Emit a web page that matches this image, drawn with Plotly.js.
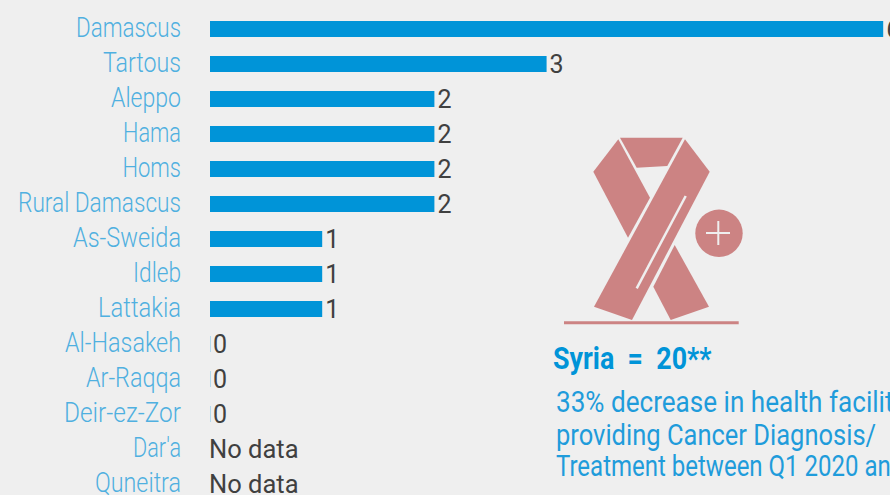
<!DOCTYPE html>
<html><head><meta charset="utf-8">
<script src="https://cdn.plot.ly/plotly-3.0.1.min.js"></script>
<style>html,body{margin:0;padding:0;background:#efefef;overflow:hidden}</style>
</head><body><div id="chart" style="width:890px;height:495px"></div>
<script>
const governorates = ["Damascus","Tartous","Aleppo","Hama","Homs","Rural Damascus","As-Sweida","Idleb","Lattakia","Al-Hasakeh","Ar-Raqqa","Deir-ez-Zor","Dar'a","Quneitra"];
const facilities = [6,3,2,2,2,2,1,1,1,0,0,0,null,null];
const noDataRegions = ["Dar'a","Quneitra"];
const noDataText = ["No data","No data"];
const summaryTitle = "Syria  =  20**";
const summaryLines = ["33% decrease in health facilities","providing Cancer Diagnosis/","Treatment between Q1 2020 and"];

const labelWidths = [105,78,70,58,58.5,163,108,48,83,116,95,117,48,86];
const lineSqueeze = [0.87,0.85,0.80];
const BG="#efefef", BLUE="#0094d8", PINK="#cc8383", LABEL="#4fb0e0", DARK="#404040", LINE="#1f9cdb";
const L=210,W=680,H=495;
const px=x=>(x-L)/W, py=y=>1-y/H;
const poly=(pts,fill)=>({type:"path",xref:"paper",yref:"paper",layer:"above",
  path:"M"+pts.map(p=>px(p[0])+","+py(p[1])).join("L")+"Z",fillcolor:fill,line:{width:0}});
const seg=(a,b,color,w)=>({type:"line",xref:"paper",yref:"paper",layer:"above",
  x0:px(a[0]),y0:py(a[1]),x1:px(b[0]),y1:py(b[1]),line:{color:color,width:w}});
const shapes=[
  poly([[620,137.7],[682.7,137.7],[667.3,166],[636.7,167.7]],PINK),
  poly([[618.3,139.3],[650,197.7],[628,237.7],[593.3,171.7]],PINK),
  poly([[674.7,245],[709,306.7],[670.7,320],[653.3,286.7]],PINK),
  poly([[685,139.3],[709.7,171.7],[632,320],[594,306.7]],PINK),
  seg([685.7,196],[636.7,288.3],BG,2.5),
  seg([564,322.7],[738.7,322.7],PINK,3),
  {type:"circle",xref:"paper",yref:"paper",layer:"above",x0:px(695.3),x1:px(742.7),y0:py(257),y1:py(209.6),fillcolor:PINK,line:{width:0}},
  seg([706,233],[730,233],BG,2),
  seg([718.3,221],[718.3,245],BG,2)
];
const txt=(t,x,y,size,color,weight)=>({text:t,xref:"paper",yref:"paper",x:px(x),y:py(y),xanchor:"left",yanchor:"middle",showarrow:false,align:"left",
  font:{size:size,color:color,family:"Roboto",weight:weight}});
const annotations=[
  txt(summaryTitle,551,358,31,BLUE,700),
  txt(summaryLines[0],554,401,30,LINE,400),
  txt(summaryLines[1],554,434,30,LINE,400),
  txt(summaryLines[2],554,465,30,LINE,400)
].concat(noDataRegions.map((r,i)=>({text:noDataText[i],xref:"x",yref:"y",x:0,y:r,xanchor:"left",yanchor:"middle",showarrow:false,xshift:-3,yshift:0,
  font:{family:"Roboto",size:25.5,color:DARK}})));
const traces=[
 {type:"bar",orientation:"h",y:governorates,x:facilities,width:16/35,
  marker:{color:BLUE,line:{color:"#b5d9ec",width:facilities.map(v=>v===0?2:0)}},
  text:facilities.map(v=>v===null?"":String(v)),textposition:"outside",cliponaxis:false,constraintext:"none",
  textfont:{family:"Roboto",size:25,color:DARK},hoverinfo:"skip"}
];
const layout={width:890,height:495,paper_bgcolor:BG,plot_bgcolor:BG,showlegend:false,
 margin:{l:L,r:0,t:0,b:0,pad:0},
 xaxis:{range:[0,680/112.2],visible:false,fixedrange:true},
 yaxis:{type:"category",categoryorder:"array",categoryarray:governorates,range:[13.314,-0.829],
  showgrid:false,zeroline:false,showline:false,ticks:"",ticklabelstandoff:28,
  tickfont:{family:"Roboto",size:28,weight:300,color:LABEL},fixedrange:true},
 shapes:shapes,annotations:annotations};
function squeeze(el,f){
  const n=el.getComputedTextLength();
  const x0=el.getBBox().x, anchor=el.getAttribute("text-anchor");
  el.setAttribute("textLength",n*f);
  el.setAttribute("lengthAdjust","spacingAndGlyphs");
  if(anchor!=="end"){ const x1=el.getBBox().x; el.setAttribute("dx",x0-x1); }
}
Plotly.newPlot("chart",traces,layout,{displayModeBar:false,staticPlot:true}).then(gd=>{
  gd.querySelectorAll(".ytick text").forEach(t=>{
    const i=governorates.indexOf(t.textContent);
    const n=t.getComputedTextLength();
    squeeze(t,labelWidths[i]/n);
    t.setAttribute("dy","-2");
  });
  gd.querySelectorAll(".annotation-text").forEach(t=>{
    const s=t.textContent;
    const k=summaryLines.indexOf(s);
    if(k>=0) squeeze(t,lineSqueeze[k]);
    else if(s.replace(/\s+/g," ")===summaryTitle.replace(/\s+/g," ")) squeeze(t,0.865);
  });
});
</script></body></html>
